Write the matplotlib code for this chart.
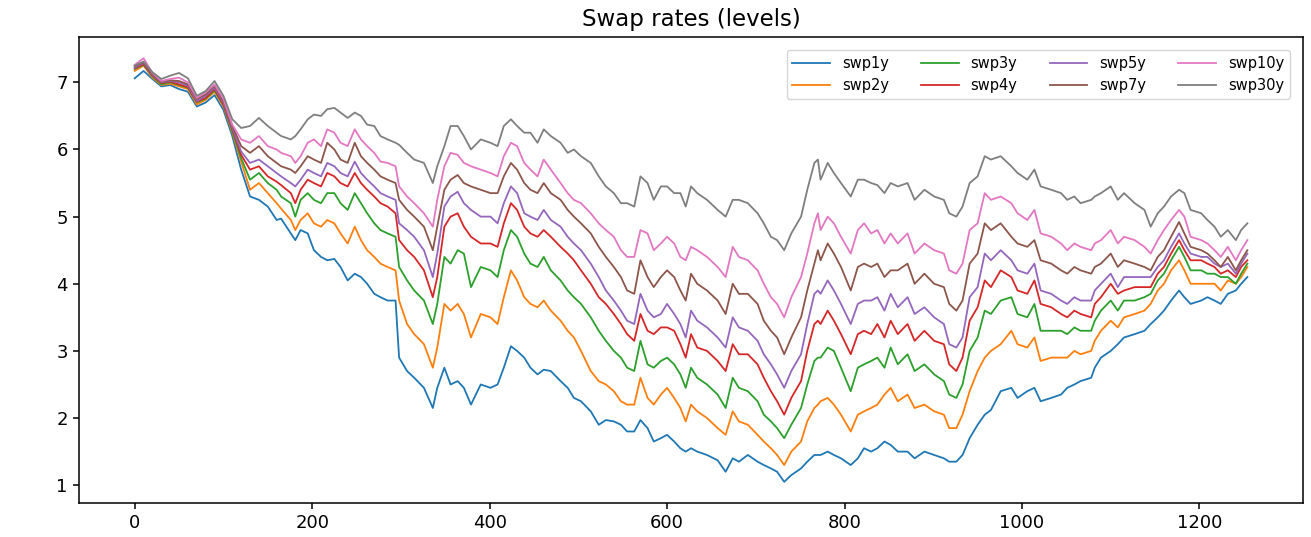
import numpy as np
import matplotlib
matplotlib.use("Agg")
import matplotlib.pyplot as plt

# index of observation (business day counter)
day = [0, 10, 20, 30, 40, 50, 60, 70, 80, 90, 100, 110, 120, 130, 140, 150, 160,
       165, 176, 181, 187, 195, 202, 210, 217, 225, 232, 240, 248, 255, 262, 270,
       277, 285, 294, 298, 307, 315, 326, 336, 341, 349, 356, 364, 371, 379, 390,
       401, 409, 416, 424, 431, 439, 446, 454, 461, 469, 480, 488, 495, 503, 514,
       523, 531, 540, 548, 555, 563, 570, 578, 585, 593, 600, 608, 615, 621,
       627, 634, 645, 657, 666, 674, 681, 691, 702, 709, 717, 724, 732, 740, 751,
       758, 766, 770, 773, 781, 788, 796, 807, 815, 822, 830, 837, 845, 852,
       860, 871, 879, 890, 901, 912, 918, 926, 933, 941, 950, 958, 965, 976, 988,
       995, 1006, 1014, 1021, 1033, 1044, 1051, 1059, 1066, 1078,
       1082, 1089, 1100, 1108, 1115, 1127, 1138, 1145, 1153, 1160, 1168, 1177,
       1183, 1190, 1202, 1209, 1217, 1224, 1232, 1241, 1247, 1254]

swp1y = [7.06, 7.17, 7.05, 6.94, 6.96, 6.90, 6.86, 6.64, 6.70, 6.81, 6.59, 6.20, 5.70, 5.30, 5.25, 5.15, 4.95,
         4.97, 4.75, 4.65, 4.80, 4.75, 4.50, 4.40, 4.35, 4.37, 4.25, 4.05, 4.15, 4.10, 4.00, 3.85, 3.80, 3.75, 3.75,
         2.90, 2.70, 2.60, 2.45, 2.15, 2.45, 2.75, 2.50, 2.55, 2.45, 2.20, 2.50,
         2.45, 2.50, 2.75, 3.07, 3.00, 2.90, 2.75, 2.65, 2.72, 2.70, 2.55, 2.45, 2.30, 2.25, 2.10, 1.90, 1.97, 1.95,
         1.90, 1.80, 1.80, 1.97, 1.85, 1.65, 1.70, 1.75, 1.65, 1.55, 1.50,
         1.55, 1.50, 1.45, 1.37, 1.20, 1.40, 1.35, 1.45, 1.35, 1.30, 1.25, 1.20, 1.05, 1.15, 1.25, 1.35, 1.45, 1.45,
         1.45, 1.50, 1.45, 1.40, 1.30, 1.40, 1.55, 1.50, 1.55, 1.65, 1.60,
         1.50, 1.50, 1.40, 1.50, 1.45, 1.40, 1.35, 1.35, 1.45, 1.70, 1.90, 2.05, 2.12, 2.40, 2.45, 2.30, 2.40, 2.45,
         2.25, 2.30, 2.35, 2.45, 2.50, 2.55, 2.60,
         2.75, 2.90, 3.00, 3.10, 3.20, 3.25, 3.30, 3.40, 3.50, 3.60, 3.75, 3.90, 3.80, 3.70, 3.75, 3.80, 3.75, 3.70,
         3.85, 3.90, 4.00, 4.10]

swp2y = [7.17, 7.25, 7.07, 6.96, 6.98, 6.94, 6.90, 6.67, 6.74, 6.86, 6.64, 6.25, 5.82, 5.40, 5.50, 5.35, 5.20,
         5.12, 4.95, 4.80, 4.95, 5.05, 4.90, 4.85, 4.95, 4.90, 4.75, 4.60, 4.85, 4.65, 4.50, 4.40, 4.30, 4.25, 4.20,
         3.75, 3.40, 3.25, 3.10, 2.75, 3.05, 3.70, 3.60, 3.70, 3.55, 3.20, 3.55,
         3.50, 3.40, 3.80, 4.20, 4.05, 3.80, 3.70, 3.65, 3.75, 3.60, 3.45, 3.30, 3.20, 3.00, 2.70, 2.55, 2.50, 2.40,
         2.25, 2.20, 2.20, 2.60, 2.30, 2.20, 2.35, 2.45, 2.30, 2.15, 1.95,
         2.20, 2.10, 2.00, 1.85, 1.75, 2.10, 1.95, 1.90, 1.75, 1.65, 1.55, 1.45, 1.30, 1.50, 1.65, 1.95, 2.15, 2.20,
         2.25, 2.30, 2.20, 2.05, 1.80, 2.05, 2.10, 2.15, 2.20, 2.35, 2.45,
         2.25, 2.35, 2.15, 2.20, 2.10, 2.05, 1.85, 1.85, 2.05, 2.40, 2.70, 2.90, 3.00, 3.10, 3.30, 3.10, 3.05, 3.20,
         2.85, 2.90, 2.90, 2.90, 3.00, 2.95, 3.00,
         3.15, 3.30, 3.45, 3.35, 3.50, 3.55, 3.60, 3.70, 3.90, 4.00, 4.20, 4.35, 4.20, 4.00, 4.00, 4.00, 4.00, 3.90,
         4.05, 4.00, 4.10, 4.25]

swp3y = [7.20, 7.26, 7.09, 6.97, 7.00, 6.96, 6.92, 6.70, 6.76, 6.88, 6.66, 6.27, 5.87, 5.55, 5.65, 5.50, 5.40,
         5.30, 5.20, 5.00, 5.25, 5.35, 5.25, 5.20, 5.35, 5.35, 5.20, 5.10, 5.35, 5.20, 5.05, 4.90, 4.80, 4.75, 4.70,
         4.25, 4.05, 3.90, 3.75, 3.40, 3.70, 4.40, 4.30, 4.50, 4.45, 3.95, 4.25,
         4.20, 4.10, 4.50, 4.80, 4.70, 4.45, 4.30, 4.25, 4.40, 4.20, 4.05, 3.90, 3.80, 3.70, 3.50, 3.30, 3.15, 3.00,
         2.90, 2.75, 2.70, 3.15, 2.80, 2.75, 2.85, 2.90, 2.80, 2.65, 2.45,
         2.75, 2.60, 2.50, 2.35, 2.15, 2.60, 2.45, 2.40, 2.25, 2.05, 1.95, 1.85, 1.70, 1.90, 2.15, 2.50, 2.85, 2.90,
         2.90, 3.05, 3.00, 2.75, 2.40, 2.75, 2.80, 2.85, 2.90, 2.75, 3.05,
         2.80, 2.95, 2.70, 2.80, 2.65, 2.55, 2.35, 2.30, 2.50, 3.00, 3.20, 3.60, 3.55, 3.75, 3.80, 3.55, 3.50, 3.70,
         3.30, 3.30, 3.30, 3.25, 3.35, 3.30, 3.30,
         3.45, 3.60, 3.75, 3.60, 3.75, 3.75, 3.80, 3.85, 4.05, 4.15, 4.35, 4.55, 4.40, 4.20, 4.20, 4.15, 4.15, 4.10,
         4.10, 4.00, 4.15, 4.30]

swp4y = [7.21, 7.27, 7.10, 6.99, 7.01, 6.97, 6.93, 6.71, 6.77, 6.90, 6.67, 6.30, 5.92, 5.70, 5.75, 5.60, 5.52,
         5.47, 5.35, 5.20, 5.40, 5.55, 5.50, 5.45, 5.65, 5.60, 5.50, 5.45, 5.65, 5.50, 5.40, 5.30, 5.20, 5.15, 5.05,
         4.65, 4.50, 4.40, 4.20, 3.80, 4.10, 4.85, 5.00, 5.05, 4.85, 4.70, 4.60,
         4.60, 4.55, 4.90, 5.20, 5.10, 4.85, 4.75, 4.70, 4.80, 4.70, 4.55, 4.45, 4.35, 4.20, 4.00, 3.80, 3.70, 3.55,
         3.40, 3.25, 3.15, 3.55, 3.30, 3.25, 3.35, 3.35, 3.30, 3.10, 2.90,
         3.25, 3.05, 3.00, 2.85, 2.70, 3.10, 2.95, 2.95, 2.80, 2.60, 2.40, 2.25, 2.05, 2.30, 2.55, 3.00, 3.40, 3.45,
         3.40, 3.60, 3.45, 3.25, 2.95, 3.25, 3.30, 3.25, 3.40, 3.20, 3.45,
         3.25, 3.40, 3.15, 3.30, 3.15, 3.10, 2.80, 2.70, 2.90, 3.45, 3.65, 4.05, 3.95, 4.20, 4.10, 3.90, 3.85, 4.05,
         3.70, 3.65, 3.55, 3.50, 3.60, 3.55, 3.50,
         3.70, 3.80, 4.00, 3.85, 3.90, 3.95, 3.95, 3.95, 4.15, 4.25, 4.45, 4.65, 4.50, 4.35, 4.35, 4.30, 4.25, 4.15,
         4.20, 4.10, 4.25, 4.35]

swp5y = [7.22, 7.29, 7.11, 7.00, 7.02, 7.00, 6.95, 6.72, 6.80, 6.92, 6.70, 6.32, 5.97, 5.80, 5.85, 5.75, 5.65,
         5.60, 5.50, 5.45, 5.55, 5.70, 5.65, 5.60, 5.80, 5.75, 5.65, 5.60, 5.82, 5.65, 5.55, 5.45, 5.35, 5.30, 5.25,
         4.90, 4.80, 4.70, 4.50, 4.10, 4.45, 5.15, 5.30, 5.37, 5.20, 5.10, 5.00,
         5.00, 4.90, 5.20, 5.45, 5.35, 5.05, 5.00, 4.95, 5.10, 4.95, 4.85, 4.70, 4.60, 4.50, 4.30, 4.10, 3.90, 3.75,
         3.60, 3.45, 3.40, 3.85, 3.60, 3.50, 3.55, 3.70, 3.55, 3.40, 3.20,
         3.60, 3.45, 3.35, 3.20, 3.05, 3.50, 3.35, 3.30, 3.15, 2.95, 2.80, 2.65, 2.45, 2.70, 2.95, 3.40, 3.85, 3.90,
         3.85, 4.05, 3.90, 3.70, 3.40, 3.70, 3.75, 3.75, 3.80, 3.60, 3.85,
         3.65, 3.80, 3.55, 3.65, 3.50, 3.40, 3.10, 3.05, 3.20, 3.80, 3.95, 4.45, 4.35, 4.50, 4.35, 4.20, 4.15, 4.30,
         3.90, 3.85, 3.75, 3.70, 3.80, 3.75, 3.75,
         3.90, 4.00, 4.15, 3.95, 4.10, 4.10, 4.10, 4.10, 4.25, 4.35, 4.55, 4.75, 4.60, 4.45, 4.40, 4.40, 4.30, 4.25,
         4.30, 4.15, 4.30, 4.45]

swp7y = [7.24, 7.30, 7.12, 7.01, 7.03, 7.02, 6.97, 6.75, 6.82, 6.95, 6.72, 6.35, 6.05, 5.95, 6.05, 5.90, 5.80,
         5.75, 5.70, 5.65, 5.75, 5.90, 5.85, 5.80, 6.10, 6.00, 5.85, 5.80, 6.10, 5.90, 5.80, 5.70, 5.60, 5.55, 5.50,
         5.25, 5.10, 5.00, 4.85, 4.50, 4.85, 5.40, 5.55, 5.62, 5.50, 5.45, 5.40,
         5.35, 5.35, 5.60, 5.80, 5.70, 5.50, 5.40, 5.35, 5.50, 5.35, 5.25, 5.10, 5.00, 4.90, 4.75, 4.55, 4.40, 4.25,
         4.10, 3.90, 3.85, 4.35, 4.10, 3.95, 4.10, 4.20, 4.10, 3.90, 3.75,
         4.15, 4.00, 3.90, 3.75, 3.55, 4.00, 3.85, 3.85, 3.70, 3.45, 3.30, 3.20, 2.95, 3.20, 3.50, 3.90, 4.30, 4.50,
         4.35, 4.60, 4.45, 4.25, 3.90, 4.25, 4.30, 4.25, 4.30, 4.10, 4.20,
         4.20, 4.30, 4.00, 4.15, 4.00, 3.95, 3.70, 3.60, 3.75, 4.30, 4.45, 4.90, 4.80, 4.90, 4.70, 4.60, 4.55, 4.65,
         4.35, 4.30, 4.20, 4.15, 4.25, 4.20, 4.15,
         4.25, 4.30, 4.45, 4.25, 4.35, 4.30, 4.25, 4.20, 4.40, 4.50, 4.70, 4.92, 4.75, 4.55, 4.50, 4.45, 4.35, 4.25,
         4.40, 4.20, 4.35, 4.50]

swp10y = [7.26, 7.36, 7.14, 7.02, 7.05, 7.07, 7.00, 6.77, 6.85, 6.97, 6.75, 6.37, 6.15, 6.10, 6.20, 6.05, 6.00,
          5.95, 5.90, 5.80, 5.90, 6.10, 6.15, 6.05, 6.30, 6.25, 6.10, 6.05, 6.30, 6.15, 6.05, 5.95, 5.82, 5.80, 5.75,
          5.45, 5.30, 5.20, 5.05, 4.85, 5.25, 5.75, 5.95, 5.92, 5.80, 5.75, 5.70,
          5.65, 5.60, 5.90, 6.10, 6.05, 5.80, 5.70, 5.60, 5.85, 5.70, 5.50, 5.35, 5.25, 5.20, 5.05, 4.90, 4.80, 4.70,
          4.50, 4.40, 4.40, 4.80, 4.75, 4.50, 4.60, 4.70, 4.60, 4.40, 4.35,
          4.55, 4.50, 4.40, 4.25, 4.10, 4.55, 4.40, 4.35, 4.20, 4.00, 3.80, 3.70, 3.50, 3.80, 4.10, 4.45, 4.90, 5.05,
          4.80, 5.00, 4.90, 4.70, 4.45, 4.80, 4.90, 4.75, 4.80, 4.60, 4.75,
          4.60, 4.75, 4.45, 4.60, 4.50, 4.45, 4.20, 4.15, 4.30, 4.80, 4.90, 5.35, 5.25, 5.30, 5.20, 5.05, 4.95, 5.10,
          4.75, 4.70, 4.60, 4.50, 4.60, 4.55, 4.50,
          4.60, 4.65, 4.80, 4.60, 4.70, 4.65, 4.55, 4.45, 4.65, 4.80, 4.95, 5.10, 5.00, 4.70, 4.65, 4.60, 4.50, 4.40,
          4.55, 4.35, 4.50, 4.65]

swp30y = [7.25, 7.31, 7.15, 7.05, 7.10, 7.14, 7.06, 6.80, 6.87, 7.02, 6.80, 6.45, 6.32, 6.35, 6.47, 6.35, 6.25,
          6.20, 6.15, 6.20, 6.30, 6.45, 6.52, 6.50, 6.60, 6.62, 6.55, 6.47, 6.55, 6.50, 6.37, 6.35, 6.20, 6.15, 6.10,
          6.07, 5.95, 5.85, 5.80, 5.50, 5.75, 6.05, 6.35, 6.35, 6.20, 6.00, 6.15,
          6.10, 6.05, 6.35, 6.45, 6.35, 6.25, 6.25, 6.10, 6.30, 6.20, 6.10, 5.95, 6.00, 5.90, 5.80, 5.60, 5.45, 5.35,
          5.20, 5.20, 5.15, 5.60, 5.50, 5.25, 5.45, 5.45, 5.35, 5.35, 5.15,
          5.45, 5.35, 5.25, 5.10, 5.00, 5.25, 5.25, 5.20, 5.05, 4.90, 4.70, 4.65, 4.50, 4.75, 5.00, 5.40, 5.80, 5.85,
          5.55, 5.80, 5.65, 5.50, 5.30, 5.55, 5.55, 5.50, 5.47, 5.35, 5.50,
          5.45, 5.50, 5.25, 5.40, 5.30, 5.25, 5.05, 5.00, 5.15, 5.50, 5.60, 5.90, 5.85, 5.90, 5.75, 5.65, 5.55, 5.70,
          5.45, 5.40, 5.35, 5.25, 5.30, 5.20, 5.25,
          5.30, 5.35, 5.45, 5.25, 5.35, 5.20, 5.10, 4.85, 5.05, 5.15, 5.30, 5.40, 5.35, 5.10, 5.05, 4.95, 4.85, 4.70,
          4.80, 4.65, 4.80, 4.90]

series_names = ["swp1y", "swp2y", "swp3y", "swp4y", "swp5y", "swp7y", "swp10y", "swp30y"]
series_values = [swp1y, swp2y, swp3y, swp4y, swp5y, swp7y, swp10y, swp30y]

fig = plt.figure(figsize=(13.11, 5.37), dpi=100)
ax = fig.add_axes([0.0603, 0.0633, 0.9336, 0.8678])

for name, values in zip(series_names, series_values):
    ax.plot(day, values, linewidth=1.3, label=name)

ax.set_title("Swap rates (levels)", fontsize=16.5, pad=8)
ax.tick_params(labelsize=13, length=4.6, width=1.1)
for spine in ax.spines.values():
    spine.set_linewidth(1.1)

ax.legend(loc="upper right", ncol=4, fontsize=10.5, handlelength=2.6,
          columnspacing=2.2, borderaxespad=0.9)

fig.savefig("out.png", dpi=100)
